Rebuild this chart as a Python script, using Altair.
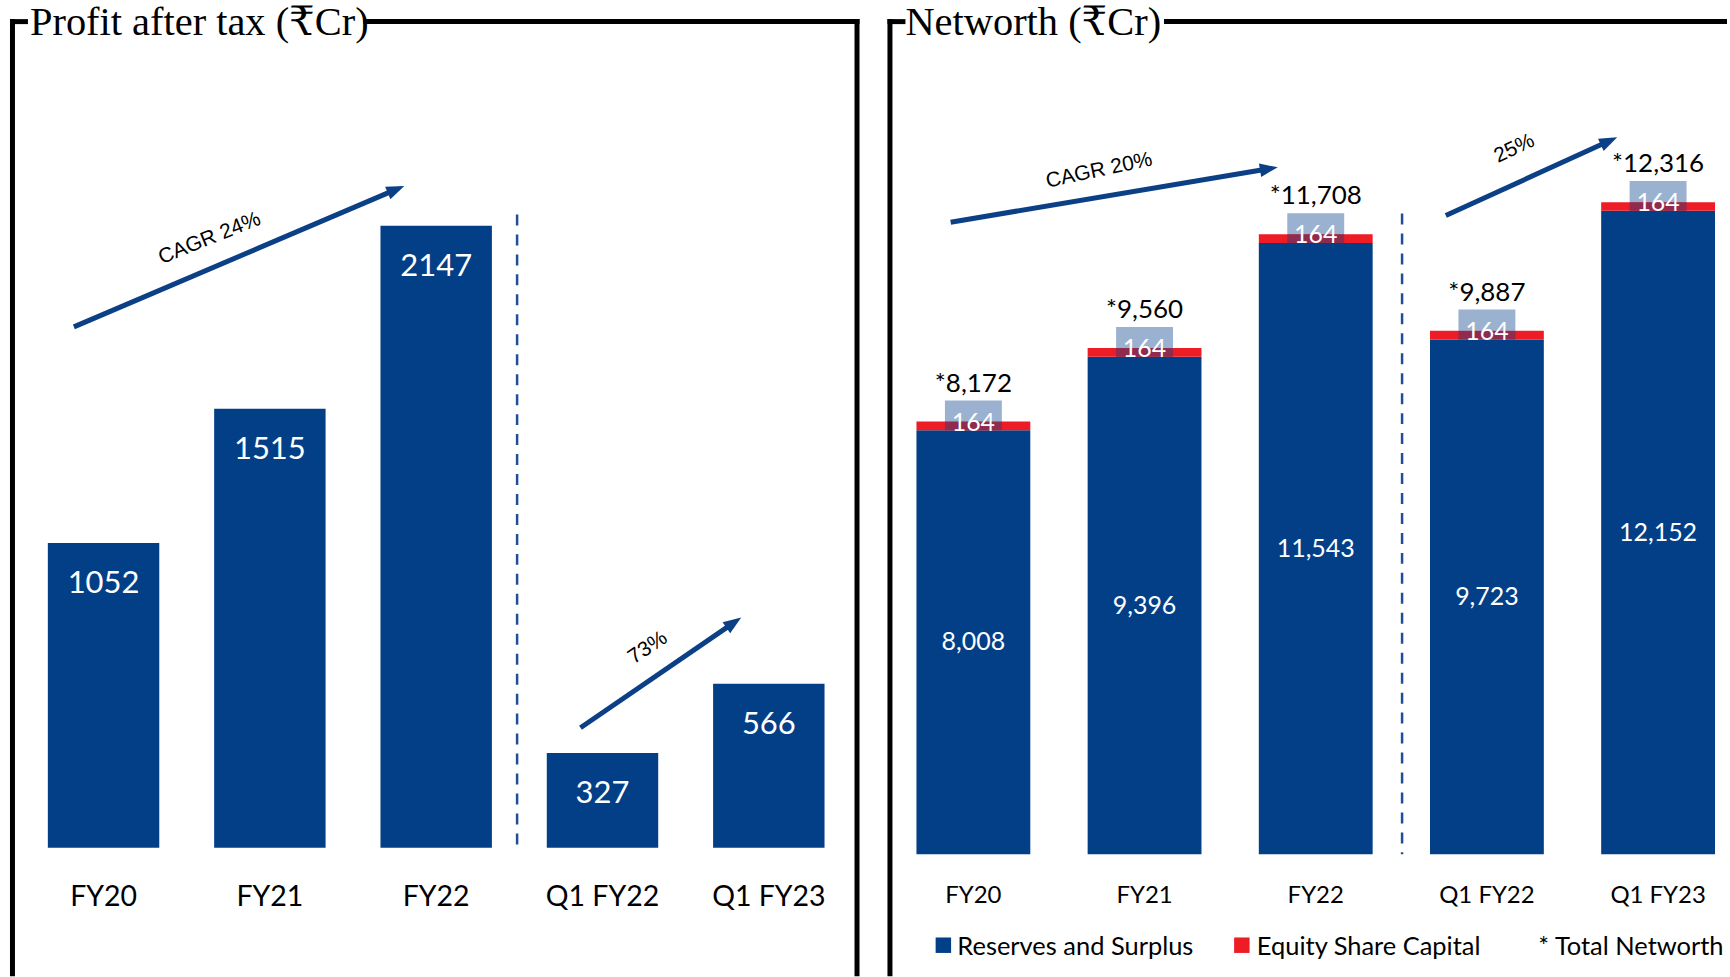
import math
import altair as alt
import pandas as pd

# ---------------- data ----------------
pat_categories = ["FY20", "FY21", "FY22", "Q1 FY22", "Q1 FY23"]
pat_values = [1052, 1515, 2147, 327, 566]

nw_categories = ["FY20", "FY21", "FY22", "Q1 FY22", "Q1 FY23"]
reserves_surplus = [8008, 9396, 11543, 9723, 12152]
equity_capital = [164, 164, 164, 164, 164]
total_networth = [8172, 9560, 11708, 9887, 12316]

legend_labels = ["Reserves and Surplus", "Equity Share Capital", "* Total Networth"]
left_title = "Profit after tax (₹Cr)"
right_title = "Networth (₹Cr)"

# ---------------- styles ----------------
BLUE = "#033F87"
RED = "#EE1C25"
LIGHT = "#9AB1D0"
MAROON = "#8E2B4E"
ARROW = "#0B3F86"
DASH = "#1F4E96"
SANS = "Lato"
SERIF = "Liberation Serif, DejaVu Serif"
ARIAL = "Liberation Sans"
H = 977
W1, W2 = 880, 850

ONE = pd.DataFrame({"_": [0]})


def rule(x1, y1, x2, y2, color="black", width=5, dash=None):
    kw = dict(color=color, strokeWidth=width)
    if dash:
        kw["strokeDash"] = dash
    return alt.Chart(ONE).mark_rule(**kw).encode(
        x=alt.value(x1), y=alt.value(y1), x2=alt.value(x2), y2=alt.value(y2)
    )


def label(x, y, s, size, font, color="black", angle=0, align="center", baseline="middle"):
    kw = dict(font=font, fontSize=size, color=color, align=align, baseline=baseline)
    if angle:
        kw["angle"] = angle
    return alt.Chart(ONE).mark_text(**kw).encode(
        x=alt.value(x), y=alt.value(y), text=alt.value(s)
    )


def arrow(tail, tip, color=ARROW):
    dx, dy = tip[0] - tail[0], tip[1] - tail[1]
    L = math.hypot(dx, dy)
    ux, uy = dx / L, dy / L
    ang = math.degrees(math.atan2(dy, dx)) % 360
    shaft = rule(tail[0], tail[1], tip[0] - ux * 12, tip[1] - uy * 12, color, 5)
    head = alt.Chart(ONE).mark_point(
        shape="M 0 0 L -2 -0.75 L -2 0.75 Z", filled=True, color=color,
        opacity=1, size=324, angle=ang, strokeWidth=0,
    ).encode(x=alt.value(tip[0]), y=alt.value(tip[1]))
    return shaft + head


# ---------------- left panel ----------------
pat = pd.DataFrame({"cat": pat_categories, "value": pat_values})
pat["txt"] = [str(v) for v in pat_values]

xs1 = alt.Scale(domain=pat_categories, paddingInner=0.33, paddingOuter=0.306,
                align=0.47, round=False)
ys1 = alt.Scale(domain=[-443, 2923], nice=False, zero=False)
X1 = alt.X("cat:N", scale=xs1, axis=None, sort=pat_categories)

bars1 = alt.Chart(pat).mark_bar(color=BLUE).encode(
    x=X1, y=alt.Y("value:Q", scale=ys1, axis=None), y2=alt.datum(0)
)
vals1 = alt.Chart(pat).mark_text(font=SANS, fontSize=31, color="white",
                                 baseline="middle", dy=41).encode(
    x=X1, y=alt.Y("value:Q", scale=ys1, axis=None), text="txt:N"
)
cats1 = alt.Chart(pat).mark_text(font=SANS, fontSize=28.5, color="black",
                                 baseline="middle").encode(
    x=X1, y=alt.value(898), text="cat:N"
)

left = alt.layer(
    bars1, vals1, cats1,
    rule(12.5, 18.3, 12.5, H),
    rule(10, 20.8, 28, 20.8),
    rule(364, 20.8, 861, 20.8),
    rule(858.5, 18.3, 858.5, H),
    label(30, 34, left_title, 40.5, SERIF, align="left", baseline="alphabetic"),
    rule(518, 214, 518, 852, DASH, 2.5, [11, 9]),
    arrow((74, 326.6), (405, 185.4)),
    label(210, 238, "CAGR  24%", 21, ARIAL, angle=338),
    arrow((581.5, 728.2), (742.5, 617.8)),
    label(649, 648, "73%", 21, ARIAL, angle=326),
).properties(width=W1, height=H)

# ---------------- right panel ----------------
nw = pd.DataFrame({
    "cat": nw_categories,
    "reserves": reserves_surplus,
    "equity": equity_capital,
    "total": total_networth,
})
nw["res_txt"] = [f"{v:,}" for v in reserves_surplus]
nw["eq_txt"] = [str(v) for v in equity_capital]
nw["tot_txt"] = ["*" + f"{v:,}" for v in total_networth]

xs2 = alt.Scale(domain=nw_categories, paddingInner=0.335, paddingOuter=0.146,
                align=0.76, round=False)
ys2 = alt.Scale(domain=[-2300, 16117], nice=False, zero=False)
X2 = alt.X("cat:N", scale=xs2, axis=None, sort=nw_categories)

res_bars = alt.Chart(nw).mark_bar(color=BLUE).encode(
    x=X2, y=alt.Y("reserves:Q", scale=ys2, axis=None), y2=alt.datum(0)
)
eq_bars = alt.Chart(nw).mark_bar(color=RED).encode(
    x=X2, y=alt.Y("total:Q", scale=ys2, axis=None), y2="reserves:Q"
)
boxes = alt.Chart(nw).transform_calculate(top="datum.total + 400").mark_bar(
    color=LIGHT, width=alt.RelativeBandSize(0.5)
).encode(x=X2, y=alt.Y("top:Q", scale=ys2, axis=None), y2="total:Q")
overlap = alt.Chart(nw).mark_bar(color=MAROON, width=alt.RelativeBandSize(0.5)).encode(
    x=X2, y=alt.Y("total:Q", scale=ys2, axis=None), y2="reserves:Q"
)
res_lbl = alt.Chart(nw).transform_calculate(mid="datum.reserves / 2").mark_text(
    font=SANS, fontSize=25, color="white", baseline="middle"
).encode(x=X2, y=alt.Y("mid:Q", scale=ys2, axis=None), text="res_txt:N")
eq_lbl = alt.Chart(nw).mark_text(font=SANS, fontSize=25, color="white",
                                 baseline="middle", dy=1).encode(
    x=X2, y=alt.Y("total:Q", scale=ys2, axis=None), text="eq_txt:N"
)
tot_lbl = alt.Chart(nw).mark_text(font=SANS, fontSize=26, color="black",
                                  baseline="middle", dy=-38).encode(
    x=X2, y=alt.Y("total:Q", scale=ys2, axis=None), text="tot_txt:N"
)
cats2 = alt.Chart(nw).mark_text(font=SANS, fontSize=24, color="black",
                                baseline="middle").encode(
    x=X2, y=alt.value(897), text="cat:N"
)

legend_colors = [BLUE, RED]
legend_sq_x = [65, 364]
legend_txt_x = [79, 379, 661]
legend_layers = []
for i, c in enumerate(legend_colors):
    legend_layers.append(
        alt.Chart(ONE).mark_square(size=240, color=c, opacity=1).encode(
            x=alt.value(legend_sq_x[i]), y=alt.value(946)
        )
    )
for i, t in enumerate(legend_labels):
    legend_layers.append(label(legend_txt_x[i], 948, t, 25.5, SANS, align="left"))

right = alt.layer(
    res_bars, eq_bars, boxes, overlap, res_lbl, eq_lbl, tot_lbl, cats2,
    rule(11.5, 18.3, 11.5, H),
    rule(9, 20.8, 27, 20.8),
    rule(286, 20.8, W2, 20.8),
    label(27, 34, right_title, 40.5, SERIF, align="left", baseline="alphabetic"),
    rule(524.5, 213, 524.5, 855, DASH, 2.5, [11, 9]),
    arrow((72.3, 221.7), (400, 166.7)),
    label(221, 170, "CAGR  20%", 21, ARIAL, angle=348),
    arrow((568.3, 215), (740, 136.7)),
    label(637, 148, "25%", 21, ARIAL, angle=335),
    *legend_layers,
).properties(width=W2, height=H)

chart = alt.hconcat(left, right, spacing=0, bounds="flush").resolve_scale(
    x="independent", y="independent"
).configure_view(stroke=None).properties(padding=0)

chart.save("out.html", embed_options={"renderer": "svg", "actions": False})
